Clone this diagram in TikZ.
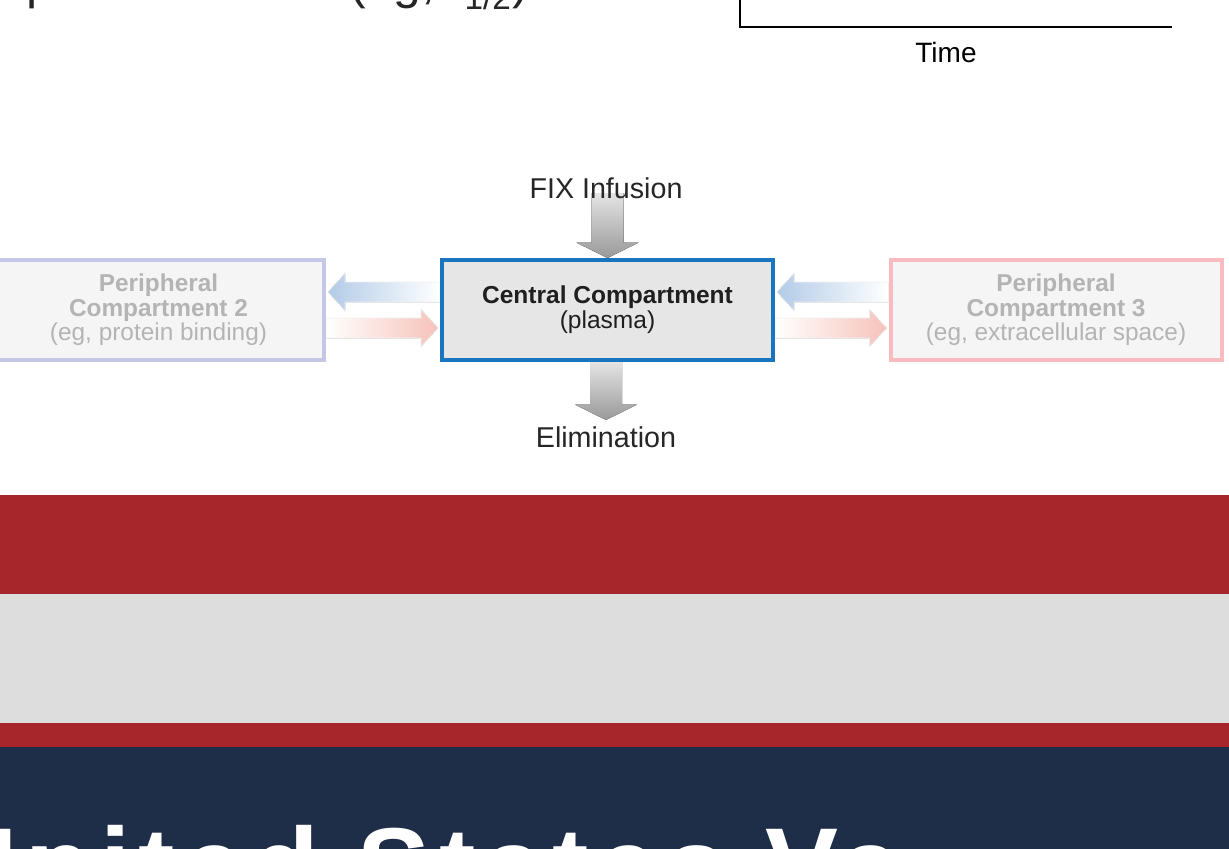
\documentclass[tikz,border=0pt]{standalone}
\usepackage{fontspec}
\setmainfont{Liberation Sans}
\usetikzlibrary{positioning,calc,backgrounds}

\definecolor{bandred}{HTML}{A6262C}
\definecolor{bandgray}{HTML}{DDDDDD}
\definecolor{bandnavy}{HTML}{1E2D48}
\definecolor{centralblue}{HTML}{1B75BC}
\definecolor{centralfill}{HTML}{E6E6E6}
\definecolor{perifill}{HTML}{F5F5F5}
\definecolor{peritext}{HTML}{B4B4B4}
\definecolor{lavender}{HTML}{C5C8E4}
\definecolor{rosy}{HTML}{F8BCC0}
\definecolor{arrblue}{HTML}{B3CBE7}
\definecolor{arrpink}{HTML}{F6C2BA}
\definecolor{graylight}{HTML}{E4E4E4}
\definecolor{graydark}{HTML}{999999}

\tikzset{
  compartment/.style={draw, line width=3pt, minimum width=248.25pt, minimum height=75pt,
    align=center, inner sep=0pt},
  labeltext/.style={inner sep=0pt, text=black!85, font=\fontsize{21.5}{25}\selectfont},
  peritxt/.style={text=peritext, font=\fontsize{18.3}{18.4}\selectfont}
}

% block arrows: #2 = tip, #3 = tail, both on the arrow's axis
\newcommand{\hflow}[3]{%
  \fill[#1] let \p1=#2, \p2=#3, \n1={sign(\x2-\x1)*12.75} in
    (\x1,\y1) -- (\x1+\n1*1pt,\y1+13.9pt) -- (\x1+\n1*1pt,\y1+7.5pt) -- (\x2,\y1+7.5pt)
    -- (\x2,\y1-7.5pt) -- (\x1+\n1*1pt,\y1-7.5pt) -- (\x1+\n1*1pt,\y1-13.9pt) -- cycle;}
\newcommand{\vflow}[3]{%
  \fill[#1] let \p1=#2, \p2=#3, \n1={sign(\y2-\y1)*11.5} in
    (\x1,\y1) -- (\x1+23.25pt,\y1+\n1*1pt) -- (\x1+12pt,\y1+\n1*1pt) -- (\x1+12pt,\y2)
    -- (\x1-12pt,\y2) -- (\x1-12pt,\y1+\n1*1pt) -- (\x1-23.25pt,\y1+\n1*1pt) -- cycle;}

\begin{document}
\begin{tikzpicture}[x=0.75pt,y=-0.75pt]
\useasboundingbox (0,0) rectangle (1229,849);
\clip (0,0) rectangle (1229,849);

% cut-off heading and plot frame at the top
\node[inner sep=0pt, anchor=base west, text=black!85, font=\fontsize{37.5}{40}\selectfont] (headp) at (26,-1) {p};
\node[inner sep=0pt, anchor=base west, text=black!85, font=\fontsize{37.5}{40}\selectfont] (headeg) at (349,-1)
  {(eg, t\kern1pt\raisebox{-8pt}{\fontsize{25}{25}\selectfont 1/2}\kern1pt)};
\draw[line width=1.5pt] (740,-5) |- (1172,27);
\node[inner sep=0pt, anchor=base, font=\fontsize{21}{24}\selectfont] (time) at (946,63) {Time};

% compartments
\node[compartment, draw=centralblue, fill=centralfill, text=black!88, font=\fontsize{18.4}{18.75}\selectfont] (central) at (607.5,310)
  {\textbf{Central Compartment}\\(plasma)};
\node[compartment, draw=lavender, fill=perifill, peritxt] (per2) at (158.5,310)
  {\textbf{Peripheral}\\\textbf{Compartment 2}\\(eg, protein binding)};
\node[compartment, draw=rosy, fill=perifill, peritxt] (per3) at (1056,310)
  {\textbf{Peripheral}\\\textbf{Compartment 3}\\(eg, extracellular space)};

\node[labeltext, anchor=base] (infusion) at (606,198) {FIX Infusion};
\node[labeltext, anchor=base] (elimination) at (606,447) {Elimination};

\begin{scope}[on background layer]
\hflow{left color=arrblue, right color=white, draw=black!6, line width=0.4pt}{($(per2.east)+(2,-18)$)}{(central.west)}
\hflow{left color=white, right color=arrpink, draw=black!6, line width=0.4pt}{($(central.west)+(-2,18)$)}{(per2.east)}
\hflow{left color=arrblue, right color=white, draw=black!6, line width=0.4pt}{($(central.east)+(2,-18)$)}{(per3.west)}
\hflow{left color=white, right color=arrpink, draw=black!6, line width=0.4pt}{($(per3.west)+(-2,18)$)}{(central.east)}
\vflow{top color=graylight, bottom color=graydark}{(central.north)}{($(infusion.base)+(0,-5)$)}
\vflow{top color=graylight, bottom color=graydark}{($(elimination.north)+(0,-6)$)}{(central.south)}
\end{scope}

% coloured bands at the bottom
\fill[bandred] (0,495) rectangle (1229,594);
\fill[bandgray] (0,594) rectangle (1229,723);
\fill[bandred] (0,723) rectangle (1229,747);
\fill[bandnavy] (0,747) rectangle (1229,849);
\node[inner sep=0pt, anchor=base west, text=white, font=\bfseries\fontsize{82}{90}\selectfont\addfontfeature{LetterSpace=7.5}] (banner) at (-62,904) {United States Va};
\end{tikzpicture}
\end{document}
